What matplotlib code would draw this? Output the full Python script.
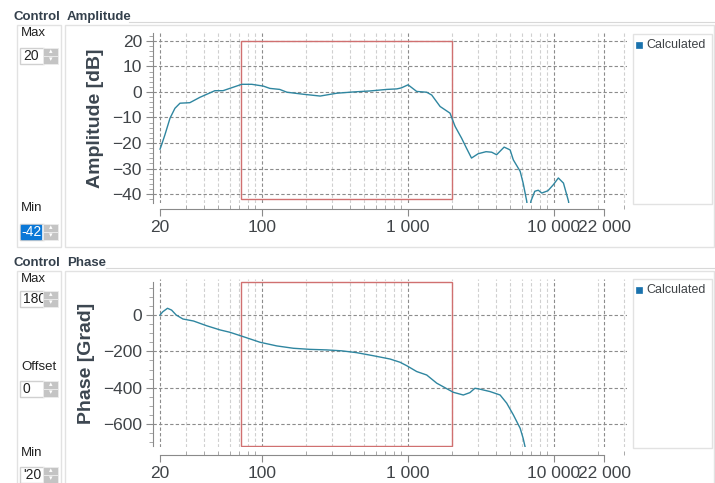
import matplotlib
matplotlib.use('Agg')
import matplotlib.pyplot as plt
from matplotlib.patches import Rectangle
from matplotlib.ticker import FixedLocator, LogLocator, MultipleLocator, NullFormatter

plt.rcParams['font.family'] = ['Liberation Sans', 'DejaVu Sans']

W, H = 715, 483

# values
amp_freq = [20, 20.5, 21.6, 23.4, 25.3, 27.4, 32, 37.5, 47.5, 54, 63, 72.6, 85, 102, 113,
            132, 148, 192, 250, 324, 421, 550, 715, 838, 900, 1000, 1146, 1342, 1452, 1658,
            1938, 2100, 2326, 2512, 2720, 3020, 3420, 3740, 4040, 4550, 5000, 5260, 5860,
            6140, 6500, 6700, 6940, 7380, 7800, 8240, 9080, 9900, 10700, 11600, 12560, 13000]
amp_db = [-22.4, -20.7, -16.8, -10.3, -6.4, -4.4, -4.2, -2.1, 0.5, 0.5, 1.8, 3.0, 3.0, 2.3, 1.4,
          1.0, -0.1, -0.9, -1.6, -0.5, 0.0, 0.4, 1.0, 1.2, 1.6, 2.8, 0.2, -0.1, -1.2, -5.7,
          -8.3, -13.5, -18.1, -22.0, -25.9, -24.2, -23.4, -23.6, -24.6, -21.6, -22.7, -26.6, -31.1,
          -35.7, -42.8, -50.0, -42.8, -38.9, -38.5, -39.6, -38.7, -36.3, -33.7, -35.7, -42.8, -50.0]

phase_freq = [20, 20.9, 22.5, 24.0, 25.8, 28.7, 33.9, 41.7, 51.5, 60.2, 74.3, 96.9, 126, 164,
              213, 277, 350, 444, 578, 752, 882, 980, 1146, 1342, 1572, 2040, 2390, 2650,
              2870, 3110, 3640, 4270, 4740, 5260, 5860, 6140, 6360, 6500]
phase_deg = [0, 18, 37, 27, 0, -22, -33, -59, -82, -95, -119, -150, -170, -183,
             -189, -192, -197, -207, -224, -242, -260, -279, -311, -330, -375, -425, -440, -427,
             -403, -408, -421, -440, -485, -549, -623, -678, -732, -780]

freq_ticks = [20, 100, 1000, 10000, 22000]
freq_labels = ['20', '100', '1 000', '10 000', '22 000']

amp_ticks = [-40, -30, -20, -10, 0, 10, 20]
phase_ticks = [-600, -400, -200, 0]

amp_window = (72, 2000, -42, 20)      # red frame: f min, f max, y min, y max
phase_window = (72, 2000, -720, 180)

LINE = '#2f86a0'
TXT = '#404448'
BORDER = '#e2e2e2'


def fx(x):
    return x / W


def fy(y):
    return 1 - y / H


def box(fig, x0, y0, x1, y1, fc='white', ec=BORDER, lw=1, z=-1):
    r = Rectangle((fx(x0), fy(y1)), (x1 - x0) / W, (y1 - y0) / H, transform=fig.transFigure,
                  facecolor=fc, edgecolor=ec, linewidth=lw, zorder=z)
    fig.patches.append(r)


def hline(fig, x0, x1, y, color='#d8d8d8'):
    fig.add_artist(plt.Line2D([fx(x0), fx(x1)], [fy(y), fy(y)], transform=fig.transFigure,
                              color=color, lw=0.8, zorder=-1))


def spin(fig, x, y, label, selected=False):
    # little spin box: text field + up/down buttons
    box(fig, x, y - 8, x + 24, y + 8, fc='white', ec='#d0d0d0', z=1)
    if selected:
        box(fig, x + 1, y - 7, x + 21, y + 7, fc='#0a78d7', ec='#0a78d7', z=1.5)
        fig.text(fx(x + 1), fy(y), label, color='white', fontsize=10, va='center', zorder=3)
    else:
        fig.text(fx(x + 3), fy(y), label, color='#222222', fontsize=10, va='center', zorder=3)
    box(fig, x + 23, y - 8, x + 38, y, fc='#c4c4c4', ec='#ececec', lw=0.6, z=5)
    box(fig, x + 23, y, x + 38, y + 8, fc='#c4c4c4', ec='#ececec', lw=0.6, z=5)
    fig.text(fx(x + 30.5), fy(y - 4), '\u25b4', color='white', fontsize=5, ha='center', va='center', zorder=6)
    fig.text(fx(x + 30.5), fy(y + 4), '\u25be', color='white', fontsize=5, ha='center', va='center', zorder=6)


def setup_axes(ax, ylo, yhi, yticks, yminor, ylabel, spine_lo, spine_hi, offset):
    ax.set_zorder(2)
    ax.set_xscale('log')
    ax.set_xlim(17.9, 31600)
    ax.set_ylim(ylo, yhi)
    for s in ['top', 'right']:
        ax.spines[s].set_visible(False)
    ax.spines['left'].set_color('#8a8a8a')
    ax.spines['left'].set_bounds(spine_lo, spine_hi)
    ax.spines['bottom'].set_color('#8a8a8a')
    ax.spines['bottom'].set_position(('outward', offset))
    ax.spines['bottom'].set_bounds(20, 22000)
    ax.xaxis.set_major_locator(FixedLocator(freq_ticks))
    ax.set_xticklabels(freq_labels)
    ax.xaxis.set_minor_locator(LogLocator(base=10, subs=[2, 3, 4, 5, 6, 7, 8, 9], numticks=20))
    ax.xaxis.set_minor_formatter(NullFormatter())
    ax.yaxis.set_major_locator(FixedLocator(yticks))
    ax.yaxis.set_minor_locator(MultipleLocator(yminor))
    ax.tick_params(which='major', length=5, color='#8a8a8a', labelcolor=TXT, labelsize=12.5, pad=3)
    ax.tick_params(which='minor', length=3, color='#9a9a9a')
    ax.tick_params(axis='x', which='minor', direction='in')
    ax.grid(True, which='major', axis='both', color='#8c8c8c', linestyle=(0, (3, 2)), linewidth=0.8)
    ax.grid(True, which='minor', axis='x', color='#d0d0d0', linestyle=(0, (3, 2)), linewidth=0.8)
    ax.set_axisbelow(True)
    ax.set_ylabel(ylabel, fontsize=14, fontweight='bold', color='#3c4650', labelpad=6)
    ax.set_facecolor('none')


def window(ax, w):
    x0, x1, y0, y1 = w
    ax.add_patch(Rectangle((x0, y0), x1 - x0, y1 - y0, fill=False, edgecolor='#d07070', linewidth=1.0,
                           zorder=3))


def legend_box(fig, y0, y1):
    box(fig, 633, y0, 712, y1, fc='white', ec=BORDER, z=1)
    box(fig, 636, y0 + 8, 642, y0 + 14, fc='#1a72ad', ec='#1a72ad', lw=0.5, z=2)
    fig.text(fx(646), fy(y0 + 11), 'Calculated', color=TXT, fontsize=9, va='center')


fig = plt.figure(figsize=(W / 100, H / 100), dpi=100)
fig.patch.set_facecolor('white')

# ---- amplitude group ----
fig.text(fx(13), fy(17), 'Control', fontsize=9.5, fontweight='bold', color='#34404c', va='center')
fig.text(fx(67), fy(17), 'Amplitude', fontsize=9.5, fontweight='bold', color='#34404c', va='center')
hline(fig, 129, 715, 22)
box(fig, 17, 25, 61, 247)
box(fig, 65, 25, 714, 247)
fig.text(fx(21), fy(33), 'Max', fontsize=9.5, color='#222222', va='center')
spin(fig, 20, 56, '20')
fig.text(fx(21), fy(208), 'Min', fontsize=9.5, color='#222222', va='center')
spin(fig, 20, 232, '-42', selected=True)

ax1 = fig.add_axes([fx(153), fy(203), (627 - 153) / W, (203 - 33) / H])
setup_axes(ax1, -43.5, 23.1, amp_ticks, 2, 'Amplitude [dB]', -43.5, 23.1, 4)
ax1.plot(amp_freq, amp_db, color=LINE, linewidth=1.0, zorder=4)
window(ax1, amp_window)
legend_box(fig, 34, 204)

# ---- phase group ----
fig.text(fx(13), fy(263), 'Control', fontsize=9.5, fontweight='bold', color='#34404c', va='center')
fig.text(fx(67), fy(263), 'Phase', fontsize=9.5, fontweight='bold', color='#34404c', va='center')
hline(fig, 106, 715, 268)
box(fig, 17, 271, 61, 484)
box(fig, 65, 271, 714, 484)
fig.text(fx(21), fy(279), 'Max', fontsize=9.5, color='#222222', va='center')
spin(fig, 20, 299, '180')
fig.text(fx(21), fy(367), 'Offset', fontsize=9.5, color='#222222', va='center')
spin(fig, 20, 389, '0')
fig.text(fx(21), fy(453), 'Min', fontsize=9.5, color='#222222', va='center')
spin(fig, 20, 475, "'20")

ax2 = fig.add_axes([fx(153), fy(447), (627 - 153) / W, (447 - 279) / H])
setup_axes(ax2, -726, 198, phase_ticks, 50, 'Phase [Grad]', -720, 180, 5.5)
ax2.plot(phase_freq, phase_deg, color=LINE, linewidth=1.0, zorder=4)
window(ax2, phase_window)
legend_box(fig, 279, 448)

fig.savefig('out.png', dpi=100, facecolor='white')
